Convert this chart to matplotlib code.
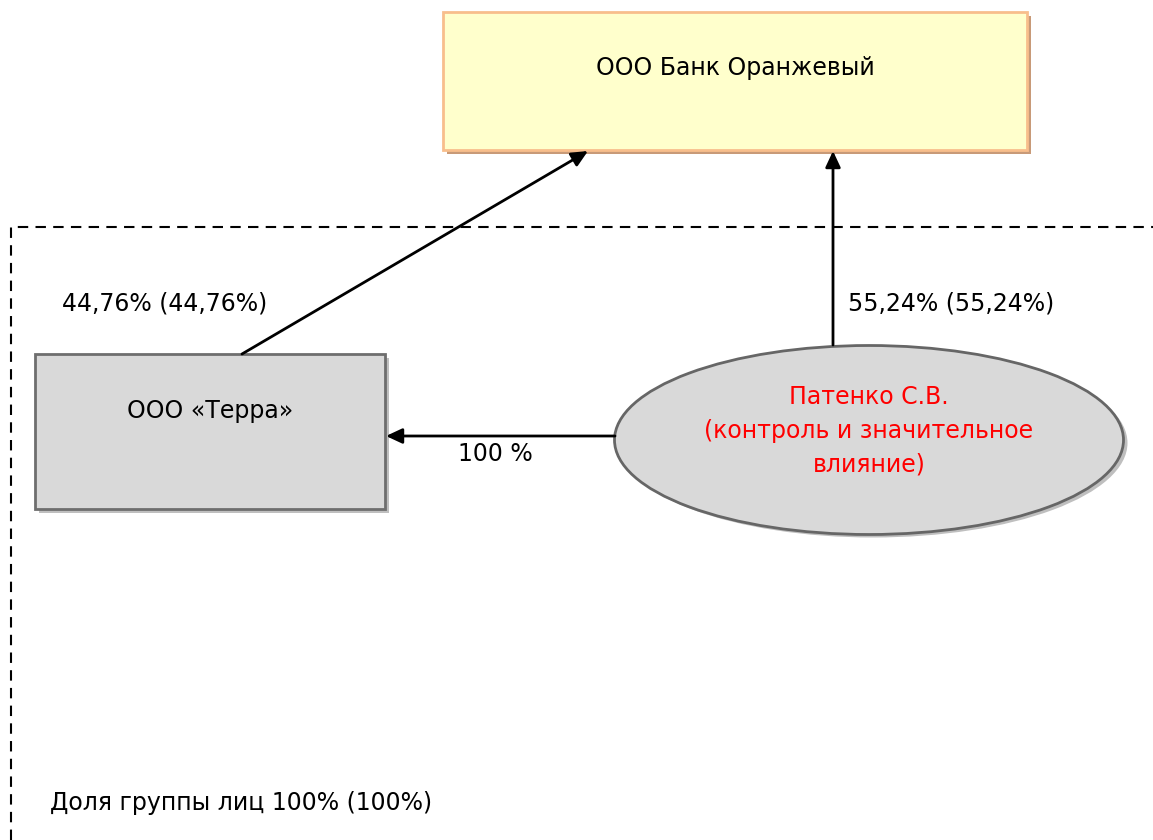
import matplotlib.pyplot as plt
from matplotlib.patches import Rectangle, Ellipse, FancyArrowPatch

W, H = 1153, 840

# node labels
bank_name = "ООО Банк Оранжевый"
terra_name = "ООО «Терра»"
person_name = "Патенко С.В.\n(контроль и значительное\nвлияние)"

# ownership labels
share_terra_bank = "44,76% (44,76%)"
share_person_bank = "55,24% (55,24%)"
share_person_terra = "100 %"
group_share = "Доля группы лиц 100% (100%)"

FS = 17

fig = plt.figure(figsize=(W / 100, H / 100), dpi=100)
ax = fig.add_axes([0, 0, 1, 1])
ax.set_xlim(0, W)
ax.set_ylim(H, 0)
ax.axis("off")


def box(x0, y0, x1, y1, face, edge, shadow, lw):
    ax.add_patch(Rectangle((x0 + 4, y0 + 4), x1 - x0, y1 - y0, facecolor=shadow,
                           edgecolor="none", zorder=1))
    ax.add_patch(Rectangle((x0, y0), x1 - x0, y1 - y0, facecolor=face,
                           edgecolor=edge, lw=lw, zorder=2))


# group boundary (dashed)
ax.plot([11, 11, W], [H, 227, 227], color="black", lw=1.5, ls=(0, (5, 3.5)),
        solid_joinstyle="miter", dash_joinstyle="miter", zorder=0)

# bank
box(443, 12, 1027, 150, "#FFFFCC", "#F8BE8C", "#C89A78", 2)
ax.text(735, 68, bank_name, ha="center", va="center", fontsize=FS, zorder=3)

# terra
box(35, 354, 385, 509, "#D9D9D9", "#6E6E6E", "#BFBFBF", 2)
ax.text(210, 411, terra_name, ha="center", va="center", fontsize=FS, zorder=3)

# person ellipse
ax.add_patch(Ellipse((873, 443), 509, 189, facecolor="#BFBFBF", edgecolor="none", zorder=1))
ax.add_patch(Ellipse((869, 440), 509, 189, facecolor="#D9D9D9", edgecolor="#666666",
                     lw=2, zorder=2))
ax.text(869, 431, person_name, ha="center", va="center", fontsize=FS, color="red",
        linespacing=1.5, zorder=3)

# arrows
arrows = [((242, 354), (588, 151)), ((833, 345), (833, 151)), ((615, 436), (386, 436))]
for start, end in arrows:
    ax.add_patch(FancyArrowPatch(start, end, arrowstyle="-|>,head_length=7.5,head_width=3.5",
                                 mutation_scale=1.3, color="black", lw=2,
                                 shrinkA=0, shrinkB=0, zorder=4))

ax.text(62, 304, share_terra_bank, ha="left", va="center", fontsize=FS)
ax.text(848, 304, share_person_bank, ha="left", va="center", fontsize=FS)
ax.text(458, 454, share_person_terra, ha="left", va="center", fontsize=FS)
ax.text(50, 803, group_share, ha="left", va="center", fontsize=FS)

fig.savefig("out.png", dpi=100)
